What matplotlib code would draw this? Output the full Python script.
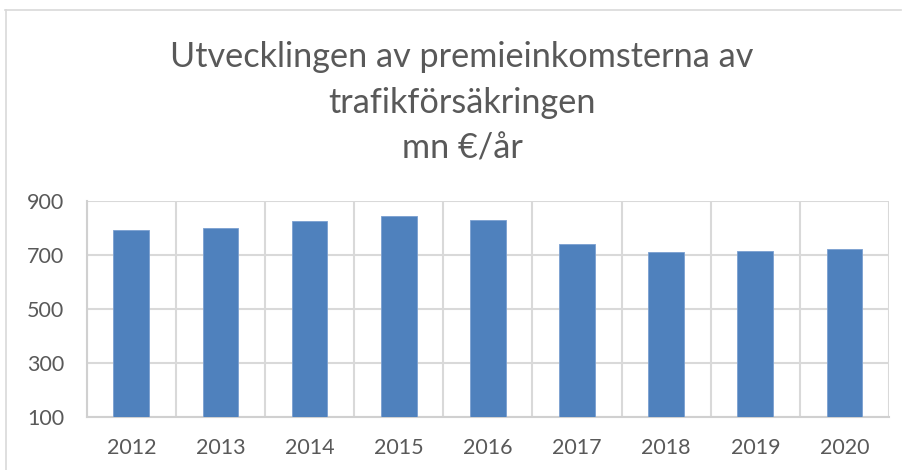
import matplotlib
matplotlib.use("Agg")
import matplotlib.pyplot as plt
import numpy as np
from matplotlib.lines import Line2D

years = ["2012", "2013", "2014", "2015", "2016", "2017", "2018", "2019", "2020"]
values = [791, 799, 827, 844, 828, 741, 711, 715, 722]
yticks = [100, 300, 500, 700, 900]
title_lines = ["Utvecklingen av premieinkomsterna av", "trafikförsäkringen", "mn €/år"]

plt.rcParams['font.family'] = ['Lato', 'DejaVu Sans']
text_col = '#595959'
grid_col = '#d9d9d9'

fig = plt.figure(figsize=(9.07, 4.70), dpi=100)
ax = fig.add_axes([0.0956, 0.1128, 0.9802 - 0.0956, 0.5723 - 0.1128])

x = np.arange(len(years))
ax.bar(x, values, width=0.4, color='#4F81BD', edgecolor='#7a9fd0', linewidth=0.6,
       bottom=0, zorder=3)
ax.set_ylim(100, 900)
ax.set_xlim(-0.5, len(years) - 0.5)
ax.set_yticks(yticks)
ax.set_xticks(x)
ax.set_xticklabels(years)
ax.set_xticks(np.arange(-0.5, len(years), 1.0), minor=True)
ax.grid(axis='y', which='major', color=grid_col, linewidth=1.5, zorder=0)
ax.grid(axis='x', which='minor', color=grid_col, linewidth=1.5, zorder=0)
ax.tick_params(axis='both', which='both', length=0, colors=text_col, labelsize=15.5)
ax.tick_params(axis='x', pad=15)
ax.tick_params(axis='y', pad=16)
for s in ['top', 'right']:
    ax.spines[s].set_visible(False)
for s in ['left', 'bottom']:
    ax.spines[s].set_color('#d0d0d0')
    ax.spines[s].set_linewidth(1.5)

# outer chart frame (top and left visible)
fig.add_artist(Line2D([5/907, 901/907], [1 - 10/470, 1 - 10/470], color=grid_col, linewidth=1.2))
fig.add_artist(Line2D([6/907, 6/907], [0, 1 - 10/470], color=grid_col, linewidth=1.2))

baselines = [67, 113, 159]
for t, b in zip(title_lines, baselines):
    fig.text(462/907, 1 - b/470, t, ha='center', va='baseline', fontsize=24.7, color=text_col)

fig.savefig("out.png", dpi=100)
